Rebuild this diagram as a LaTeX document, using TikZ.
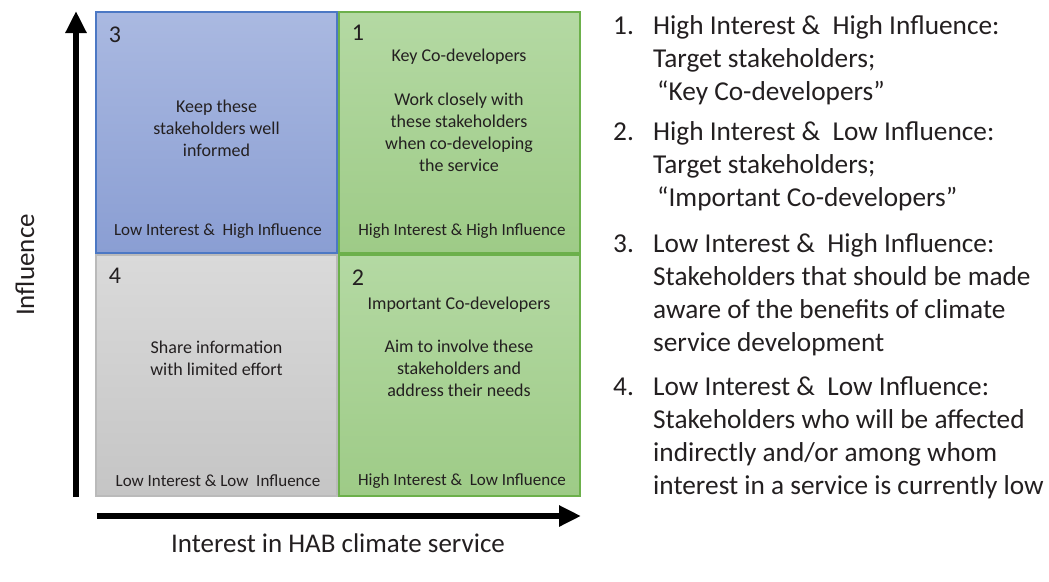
\documentclass[tikz,border=0pt]{standalone}
\usepackage{fontspec}
\setmainfont{Carlito}
\usetikzlibrary{arrows.meta}
\definecolor{bluetop}{HTML}{AAB9E1}
\definecolor{bluebot}{HTML}{8A9ED3}
\definecolor{blueline}{HTML}{4C78C4}
\definecolor{greentop}{HTML}{B4D9A3}
\definecolor{greenbot}{HTML}{9ECB87}
\definecolor{greenline}{HTML}{6CB04B}
\definecolor{graytop}{HTML}{DADADA}
\definecolor{graybot}{HTML}{C5C5C5}
\definecolor{grayline}{HTML}{BABABA}
\definecolor{ink}{HTML}{231F20}
\tikzset{
  quad/.style={draw=#1line,top color=#1top,bottom color=#1bot,line width=2pt,
    minimum width=241pt,minimum height=241pt,inner sep=0pt},
  num/.style={font=\fontsize{24}{28}\selectfont,text=ink,inner sep=0pt},
  body/.style={font=\fontsize{18}{22}\selectfont,align=center,text=ink,inner sep=0pt},
  corner/.style={font=\fontsize{17}{20}\selectfont,text=ink,inner sep=0pt},
  item/.style={font=\fontsize{27.3}{33}\selectfont,align=left,anchor=north west,
    inner sep=0pt,text=ink},
  axis/.style={line width=6pt,draw=black,-{Triangle[width=20pt,length=22pt]}}
}
\begin{document}
\begin{tikzpicture}[x=1pt,y=-1pt]
      \useasboundingbox (0,0) rectangle (1049,581);
      \node[quad=blue] (q3) at (216.5,132) {};
      \node[quad=gray] (q4) at (216.5,375) {};
      \node[quad=green] (q1) at (459,132) {};
      \node[quad=green] (q2) at (459,375) {};
      \foreach \n/\x/\y in {3/115/35,1/358/33,4/115/276,2/358/278}{
        \node[num] (k\n) at (\x,\y) {\n};
      }
      \node[body] (t3) at (216.5,128) {Keep these\\stakeholders well\\informed};
      \node[body] (h1) at (459,57) {Key Co-developers};
      \node[body] (t1) at (459,132) {Work closely with\\these stakeholders\\when co-developing\\the service};
      \node[body] (h2) at (459,305) {Important Co-developers};
      \node[body] (t2) at (459,368) {Aim to involve these\\stakeholders and\\address their needs};
      \node[body] (t4) at (216.5,358) {Share information\\with limited effort};
      \node[corner] (c3) at (218,231) {Low Interest \&\ \ High Influence};
      \node[corner] (c1) at (462,231) {High Interest \& High Influence};
      \node[corner] (c4) at (218,481) {Low Interest \& Low\ \ Influence};
      \node[corner] (c2) at (462,481) {High Interest \&\ \ Low Influence};
      \coordinate (ybot) at (76,497);
      \coordinate (ytop) at (76,11);
      \coordinate (xleft) at (97,516);
      \coordinate (xright) at (581,516);
      \draw[axis] (ybot) -- (ytop);
      \draw[axis] (xleft) -- (xright);
      \node[rotate=90,font=\fontsize{27}{33}\selectfont,text=ink] (ylab) at (25,265) {Influence};
      \node[font=\fontsize{27}{33}\selectfont,text=ink] (xlab) at (338,543) {Interest in HAB climate service};
      \foreach \n/\y/\t in {1/15/{High Interest \&\ \ High Influence:\\Target stakeholders;\\\hspace{4pt}“Key Co-developers”},
          2/121/{High Interest \&\ \ Low Influence:\\Target stakeholders;\\\hspace{4pt}“Important Co-developers”},
          3/233/{Low Interest \&\ \ High Influence:\\Stakeholders that should be made\\aware of the benefits of climate\\service development},
          4/376/{Low Interest \&\ \ Low Influence:\\Stakeholders who will be affected\\indirectly and/or among whom\\interest in a service is currently low}}{
        \node[item] (n\n) at (613,\y) {\vphantom{lfH}\n.};
        \node[item] (i\n) at (653,\y) {\t};
      }
    \end{tikzpicture}
\end{document}
